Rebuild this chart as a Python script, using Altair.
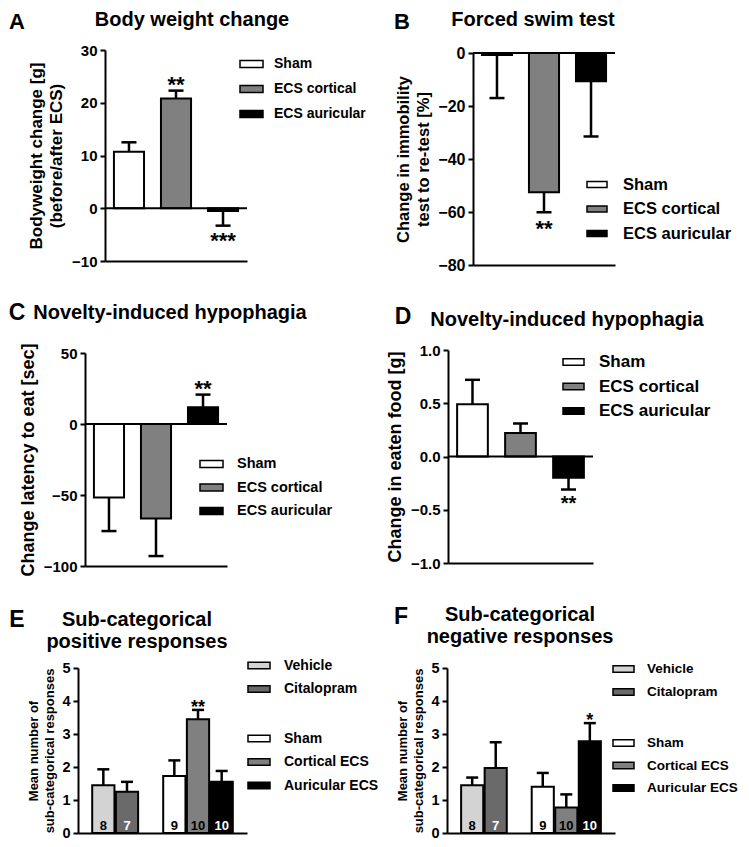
import altair as alt
import pandas as pd

FONT = "Liberation Sans"
M = 8
W, H = 733, 831

# ---------------- data ----------------
ecs_groups = ["Sham", "ECS cortical", "ECS auricular"]
ecs_fill = ["white", "#808080", "black"]

a_mean = [10.7, 20.8, -0.5]
a_sem = [1.8, 1.5, 2.8]
a_sig = ["", "**", "***"]

b_mean = [-0.8, -52.5, -10.7]
b_sem = [16.2, 7.6, 20.8]
b_sig = ["", "**", ""]

c_mean = [-51.8, -66.6, 11.8]
c_sem = [23.6, 26.4, 8.9]
c_sig = ["", "", "**"]

d_mean = [0.49, 0.22, -0.20]
d_sem = [0.23, 0.09, 0.11]
d_sig = ["", "", "**"]

drug_groups = ["Vehicle", "Citalopram"]
drug_fill = ["#d3d3d3", "#6a6a6a"]
stim_groups = ["Sham", "Cortical ECS", "Auricular ECS"]
stim_fill = ["white", "#808080", "black"]
sub_groups = drug_groups + stim_groups

e_mean = [1.45, 1.25, 1.73, 3.45, 1.55]
e_sem = [0.48, 0.30, 0.47, 0.28, 0.33]
e_sig = ["", "", "", "**", ""]
e_n = [8, 7, 9, 10, 10]

f_mean = [1.45, 1.97, 1.40, 0.77, 2.78]
f_sem = [0.23, 0.78, 0.42, 0.40, 0.55]
f_sig = ["", "", "", "", "*"]
f_n = [8, 7, 9, 10, 10]

white_text_groups = ["Citalopram", "Auricular ECS"]

# ---------------- styling helpers ----------------
SYMBOL = "M-1,-0.3H1V0.3H-1Z"
ENTRY_H = 19.5

AXIS_COMMON = dict(labelFont=FONT, labelFontWeight="bold", labelColor="black",
                   tickColor="black", tickWidth=2, tickSize=5,
                   domainColor="black", domainWidth=2,
                   titleFont=FONT, titleFontWeight="bold", titleColor="black",
                   grid=False, labelFlush=False, labelOverlap=False)


def legend(sym_left, row1, spacing, fs, sym_w, lab_left):
    return alt.Legend(orient="none", legendX=sym_left - M - 1, legendY=row1 - M - 10.5,
                      title=None, symbolType=SYMBOL, symbolSize=sym_w * sym_w,
                      symbolStrokeColor="black", symbolStrokeWidth=1.5, symbolOpacity=1,
                      labelFont=FONT, labelFontSize=fs, labelFontWeight="bold",
                      labelColor="black", labelOffset=lab_left - sym_left - sym_w,
                      rowPadding=spacing - ENTRY_H, padding=0)


def make_panel(groups, means, sems, sigs, spec, sets, ns=None):
    df = pd.DataFrame({"g": groups, "m": means, "s": sems, "sig": sigs})
    if ns is not None:
        df["n"] = [str(v) for v in ns]
    x0, x1 = spec["x"][0] - M, spec["x"][1] - M
    yb, yt = spec["y"][0] - M, spec["y"][1] - M
    yscale = alt.Scale(domain=spec["ydomain"], range=[yb, yt], nice=False, zero=False)
    yax = alt.Axis(orient="left", offset=-x0, values=spec["ticks"], format=spec["fmt"],
                   title=spec["ytitle"], labelFontSize=spec["lsize"], labelPadding=3,
                   titleFontSize=spec["tsize"], titlePadding=spec["tpad"],
                   titleLineHeight=spec["tlh"], **AXIS_COMMON)
    xscale = alt.Scale(domain=spec["xdomain"], range=[x0, x1],
                       paddingInner=spec["pin"], paddingOuter=spec["pout"])
    xax = alt.Axis(orient="bottom", offset=yb - H, labels=False, ticks=False, title=None,
                   domainColor="black", domainWidth=2, grid=False)
    X = alt.X("g:N", scale=xscale, axis=xax)

    def Y(field):
        return alt.Y(field, type="quantitative", scale=yscale, axis=yax)

    base = alt.Chart(df).transform_calculate(
        e="datum.m >= 0 ? datum.m + datum.s : datum.m - datum.s")

    layers = []
    for gs, cols, leg in sets:
        layers.append(
            base.transform_filter(alt.FieldOneOfPredicate(field="g", oneOf=gs))
            .mark_bar(stroke="black", strokeWidth=2)
            .encode(x=X, y=Y("m"), y2=alt.Y2(datum=0),
                    fill=alt.Fill("g:N", scale=alt.Scale(domain=gs, range=cols), legend=leg)))
    layers.append(base.mark_rule(color="black", strokeWidth=2.5)
                  .encode(x=X, y=Y("m"), y2=alt.Y2("e:Q")))
    layers.append(base.mark_tick(color="black", thickness=2.5, size=spec["cap"], opacity=1)
                  .encode(x=X, y=Y("e")))
    txt = dict(font=FONT, fontSize=spec["ssize"], fontWeight="bold", color="black",
               baseline="alphabetic", align="center")
    layers.append(base.transform_filter("datum.m >= 0")
                  .mark_text(dy=spec["sdy_up"], **txt)
                  .encode(x=X, y=Y("e"), text="sig:N"))
    layers.append(base.transform_filter("datum.m < 0")
                  .mark_text(dy=spec["sdy_dn"], **txt)
                  .encode(x=X, y=Y("e"), text="sig:N"))
    if ns is not None:
        layers.append(
            base.mark_text(font=FONT, fontSize=13, fontWeight="bold", baseline="alphabetic",
                           align="center", dy=-3)
            .encode(x=X,
                    y=alt.Y(datum=0, type="quantitative", scale=yscale, axis=yax),
                    text="n:N",
                    color=alt.condition(alt.FieldOneOfPredicate(field="g", oneOf=white_text_groups),
                                        alt.value("white"), alt.value("black"))))
    core = alt.layer(*layers)
    if len(sets) > 1:
        core = core.resolve_scale(fill="independent")
    if spec["ydomain"][0] < 0:
        zero = alt.Chart(pd.DataFrame({"z": [0]})).mark_rule(color="black", strokeWidth=2).encode(
            x=alt.X(datum=0, type="quantitative",
                    scale=alt.Scale(domain=[0, 1], range=[x0, x1]), axis=None),
            x2=alt.X2(datum=1),
            y=alt.Y(datum=0, type="quantitative", scale=yscale, axis=yax))
        return alt.layer(core, zero).resolve_scale(x="independent")
    return core


def label(text, x, y, size):
    return alt.Chart(pd.DataFrame({"t": [text]})).mark_text(
        font=FONT, fontSize=size, fontWeight="bold", color="black",
        align="center", baseline="middle").encode(
        x=alt.value(x - M), y=alt.value(y - M), text="t:N")


common3 = dict(xdomain=ecs_groups, pin=0.36, pout=0.19, cap=15, ssize=22,
               sdy_up=1, sdy_dn=22, fmt="d", tlh=20)

specA = dict(common3, x=(105, 247), y=(261, 50), ydomain=[-10, 30], ticks=[-10, 0, 10, 20, 30],
             ytitle=["Bodyweight change [g]", "(before/after  ECS)"], lsize=15, tsize=17, tpad=6)
specB = dict(common3, x=(473, 615), y=(265, 53), ydomain=[-80, 0], ticks=[-80, -60, -40, -20, 0],
             ytitle=["Change in immobility", "test to re-test [%]"], lsize=16, tsize=16.5, tpad=6,
             sdy_dn=24)
specC = dict(common3, x=(85, 227), y=(566, 353), ydomain=[-100, 50], ticks=[-100, -50, 0, 50],
             ytitle="Change latency to eat [sec]", lsize=15, tsize=18, tpad=6)
specD = dict(common3, x=(448, 593), y=(563, 350), ydomain=[-1, 1], ticks=[-1, -0.5, 0, 0.5, 1],
             ytitle="Change in eaten food [g]", lsize=15, tsize=18, tpad=6, fmt=".1f",
             ssize=20, sdy_dn=20)
sub_domain = ["Vehicle", "Citalopram", " ", "Sham", "Cortical ECS", "Auricular ECS"]
commonEF = dict(xdomain=sub_domain, pin=0.06, pout=0.6, cap=12, ssize=18, sdy_up=3, sdy_dn=20,
                fmt="d", ydomain=[0, 5], ticks=[0, 1, 2, 3, 4, 5],
                ytitle=["Mean number of", "sub-categorical responses"],
                lsize=14.5, tsize=13, tpad=5, tlh=16)
specE = dict(commonEF, x=(78, 247), y=(833, 668))
specF = dict(commonEF, x=(447, 615), y=(833, 668))

pA = make_panel(ecs_groups, a_mean, a_sem, a_sig, specA,
                [(ecs_groups, ecs_fill, legend(240, 62, 24.5, 14, 23, 273))])
pB = make_panel(ecs_groups, b_mean, b_sem, b_sig, specB,
                [(ecs_groups, ecs_fill, legend(587, 184, 24, 16.5, 20, 622))])
pC = make_panel(ecs_groups, c_mean, c_sem, c_sig, specC,
                [(ecs_groups, ecs_fill, legend(200, 462, 24, 14.5, 23, 236))])
pD = make_panel(ecs_groups, d_mean, d_sem, d_sig, specD,
                [(ecs_groups, ecs_fill, legend(563, 361, 24, 17, 21, 598))])
pE = make_panel(sub_groups, e_mean, e_sem, e_sig, specE,
                [(drug_groups, drug_fill, legend(248, 664, 24, 14, 22, 283)),
                 (stim_groups, stim_fill, legend(248, 737, 24, 14, 22, 283))], ns=e_n)
pF = make_panel(sub_groups, f_mean, f_sem, f_sig, specF,
                [(drug_groups, drug_fill, legend(613, 668, 24.5, 13.5, 21, 646)),
                 (stim_groups, stim_fill, legend(613, 742, 24, 13.5, 21, 646))], ns=f_n)

texts = [
    label("A", 17, 22, 22), label("Body weight change", 192, 20, 20),
    label("B", 402, 22, 22), label("Forced swim test", 533, 20, 20),
    label("C", 17, 313, 23), label("Novelty-induced hypophagia", 170, 313, 20),
    label("D", 403, 317, 23), label("Novelty-induced hypophagia", 567, 320, 20),
    label("E", 17, 620, 23), label("Sub-categorical", 137, 620, 20),
    label("positive responses", 137, 642, 20),
    label("F", 401, 617, 23), label("Sub-categorical", 520, 615, 20),
    label("negative responses", 520, 637, 20),
]

chart = alt.layer(pA, pB, pC, pD, pE, pF, *texts).resolve_scale(
    x="independent", y="independent", fill="independent"
).properties(width=W, height=H, autosize="none", padding=0).configure_view(stroke=None)

chart.save("out.html", embed_options={"renderer": "svg", "actions": False})
